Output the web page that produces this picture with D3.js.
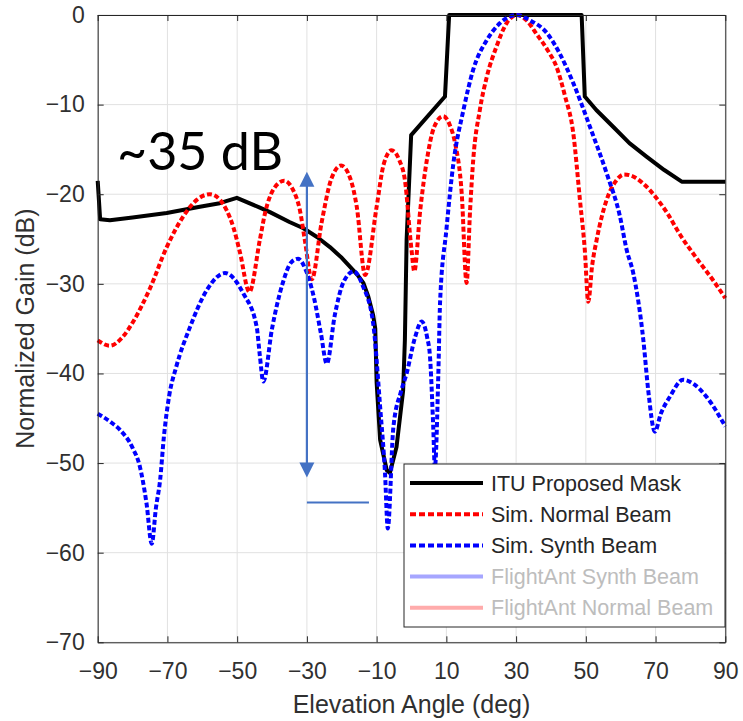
<!DOCTYPE html>
<html>
<head>
<meta charset="utf-8">
<script src="https://cdn.jsdelivr.net/npm/d3@7"></script>
<style>
body{margin:0;background:#fff;}
text{font-family:"Liberation Sans",Arial,sans-serif;}
.grid line{stroke:#e1e1e1;stroke-width:1;}
.axis path,.axis line{stroke:#262626;stroke-width:1;}
.axis text{fill:#303030;font-size:23px;}
</style>
</head>
<body>
<svg id="chart"></svg>
<script>
// ITU proposed mask
var maskAngle=[-90,-89.3,-86.5,-80,-70.2,-60.7,-55,-50.1,-43.5,-40.6,-35,-31,-27,-23.4,-20,-17.6,-15.5,-13.8,-12.4,-11,-10.4,-10,-9,-7.1,-6.2,-4.3,-2.4,-1.9,-1.4,-0.1,9.6,10.8,48.8,49.7,53,57.9,62.5,67.4,72.5,77.5,90];
var maskGain=[-18.5,-22.8,-22.9,-22.6,-22.1,-21.4,-21,-20.4,-21.5,-22,-23.1,-23.8,-24.8,-25.9,-27.1,-28.1,-29,-29.9,-31.4,-33.5,-35,-41,-47.4,-50.8,-51.1,-48.2,-41.9,-36.3,-25.1,-13.4,-9.1,0,0,-9.1,-10.6,-12.5,-14.3,-15.8,-17.3,-18.6,-18.6];
// simulated normal beam
var normalAngle=[-90,-86.5,-83,-79.8,-75,-70.2,-65.5,-61.5,-57.8,-55,-53,-51,-49.2,-46.5,-43.5,-42,-39.5,-36.5,-34,-32,-30.6,-28.6,-25.8,-23,-20.2,-17.5,-15.7,-13.3,-10,-8,-5.7,-3.5,-1.9,0,0.8,2.5,4.4,6.5,9.1,11,12.5,14.4,15.8,16.8,17.7,19.6,21.6,24.4,27.3,30.3,33,36,39,41.6,44,46.4,48.3,49.7,50.7,51.8,53.1,56,58.5,61,64,67,70,73.5,77,81.5,86.5,90];
var normalGain=[-36.3,-36.9,-36,-34.2,-30.5,-25.9,-22.5,-20.6,-20,-20.6,-21.8,-23.8,-26.5,-30.9,-25.1,-22.1,-19.4,-18.5,-19.5,-21.8,-25.1,-29.5,-23.2,-18.3,-16.8,-18.3,-21.4,-29,-21.4,-16.7,-15.1,-16.2,-18.4,-26.2,-28.6,-21.8,-16.2,-12.5,-11.3,-12.3,-14.3,-19.9,-29.9,-21.8,-16.2,-10.6,-6.9,-3.5,-0.9,0,-0.6,-2.2,-3.9,-5.8,-9,-13.2,-20.6,-26.2,-32,-28,-25.1,-20.6,-18.6,-17.8,-18.1,-19,-20.3,-22.2,-24.5,-27,-29.6,-31.6];
// simulated synthesized beam
var synthAngle=[-90,-86,-83.6,-80,-77.9,-76,-74.5,-73.3,-72.1,-71,-69.5,-67.5,-63.5,-58.7,-53.5,-48.2,-44.4,-43.5,-42.5,-40,-37,-34.5,-32.5,-30.5,-28,-26,-24.3,-22,-19.5,-16.5,-14,-11,-9,-7.6,-6.8,-5.2,-3,-1.4,1,2.9,4.5,5.3,6.2,6.7,7.7,8.2,10,12,14.9,17.7,21.6,25.4,30.2,34,38.8,42.5,46.4,51.2,56,59.8,61.7,63.6,66.5,67.9,69.8,71.5,74.1,77.9,81,84.6,90];
var synthGain=[-44.5,-45.5,-46.3,-48.3,-50.4,-54.5,-59,-55,-51.9,-47,-42.5,-39.3,-34.8,-30.7,-28.8,-31.1,-34.8,-38,-40.9,-35,-30,-27.6,-27.2,-28.3,-31.5,-35.5,-38.9,-33.5,-29.8,-28.6,-30.2,-34.4,-43.7,-51.1,-57.3,-46,-42,-40,-36,-34.2,-36,-38.1,-45.6,-50.5,-40,-32,-24,-16.6,-10.6,-6.1,-2.8,-0.9,0,-0.6,-2,-4.3,-7.6,-12.5,-17.7,-22.5,-26.2,-28.8,-36.3,-41.9,-46.5,-44.5,-42.6,-40.7,-41.2,-42.6,-45.9];

var xTicks=[-90,-70,-50,-30,-10,10,30,50,70,90];
var yTicks=[0,-10,-20,-30,-40,-50,-60,-70];
var legendLabels=["ITU Proposed Mask","Sim. Normal Beam","Sim. Synth Beam","FlightAnt Synth Beam","FlightAnt Normal Beam"];

var w=743;
var h=721;
var margin={left:97.7,right:17.7,top:15,bottom:78.7};

function zip(a,b){
  return a.map(function(d,i){return {x:d,y:b[i]};});
}
var mask=zip(maskAngle,maskGain);
var normal=zip(normalAngle,normalGain);
var synth=zip(synthAngle,synthGain);

var svg=d3.select("#chart")
          .attr("width",w)
          .attr("height",h);

var xScale=d3.scaleLinear()
             .domain([-90,90])
             .range([margin.left,w-margin.right]);
var yScale=d3.scaleLinear()
             .domain([-70,0])
             .range([h-margin.bottom,margin.top]);

// grid
svg.append("g")
   .classed("grid",true)
   .selectAll("line")
   .data(xTicks)
   .enter()
   .append("line")
   .attr("x1",function(d){return xScale(d);})
   .attr("x2",function(d){return xScale(d);})
   .attr("y1",yScale(0))
   .attr("y2",yScale(-70));
svg.append("g")
   .classed("grid",true)
   .selectAll("line")
   .data(yTicks)
   .enter()
   .append("line")
   .attr("x1",xScale(-90))
   .attr("x2",xScale(90))
   .attr("y1",function(d){return yScale(d);})
   .attr("y2",function(d){return yScale(d);});

// curves
var straight=d3.line()
               .x(function(d){return xScale(d.x);})
               .y(function(d){return yScale(d.y);});
var smooth=d3.line()
             .curve(d3.curveMonotoneX)
             .x(function(d){return xScale(d.x);})
             .y(function(d){return yScale(d.y);});

svg.append("path")
   .datum(mask)
   .attr("d",straight)
   .attr("fill","none")
   .attr("stroke","#000")
   .attr("stroke-width",4)
   .attr("stroke-linejoin","round");
svg.append("path")
   .datum(normal)
   .attr("d",smooth)
   .attr("fill","none")
   .attr("stroke","#ff0000")
   .attr("stroke-width",4)
   .attr("stroke-dasharray","5,2.6");
svg.append("path")
   .datum(synth)
   .attr("d",smooth)
   .attr("fill","none")
   .attr("stroke","#0000ff")
   .attr("stroke-width",4)
   .attr("stroke-dasharray","5,2.6");

// axes (ticks point inward like matlab)
var x0=xScale(-90),x1=xScale(90),y0=yScale(-70),y1=yScale(0);
svg.append("g")
   .classed("axis",true)
   .attr("transform","translate(0,"+y0+")")
   .call(d3.axisBottom(xScale).tickValues(xTicks).tickSizeInner(-6).tickSizeOuter(0).tickPadding(20));
svg.append("g")
   .classed("axis",true)
   .attr("transform","translate(0,"+y1+")")
   .call(d3.axisTop(xScale).tickValues(xTicks).tickSizeInner(-6).tickSizeOuter(0).tickFormat(""));
svg.append("g")
   .classed("axis",true)
   .attr("transform","translate("+x0+",0)")
   .call(d3.axisLeft(yScale).tickValues(yTicks).tickSizeInner(-6).tickSizeOuter(0).tickPadding(13));
svg.append("g")
   .classed("axis",true)
   .attr("transform","translate("+x1+",0)")
   .call(d3.axisRight(yScale).tickValues(yTicks).tickSizeInner(-6).tickSizeOuter(0).tickFormat(""));
svg.selectAll(".axis text").attr("font-family",null);

// axis titles
svg.append("text")
   .attr("x",(x0+x1)/2)
   .attr("y",713)
   .attr("text-anchor","middle")
   .attr("fill","#303030")
   .style("font-size","25px")
   .text("Elevation Angle (deg)");
svg.append("text")
   .attr("transform","translate(34,"+((y0+y1)/2)+") rotate(-90)")
   .attr("text-anchor","middle")
   .attr("fill","#303030")
   .style("font-size","25px")
   .text("Normalized Gain (dB)");

// annotation
var noteColor="#4472c4";
var ax=xScale(-30);
var topTip=yScale(-17.5),botTip=yScale(-51.6);
svg.append("line")
   .attr("x1",ax).attr("x2",ax)
   .attr("y1",topTip+14).attr("y2",botTip-14)
   .attr("stroke",noteColor)
   .attr("stroke-width",2.2);
svg.append("path")
   .attr("d","M"+ax+","+topTip+"L"+(ax-7.5)+","+(topTip+15)+"L"+(ax+7.5)+","+(topTip+15)+"Z")
   .attr("fill",noteColor);
svg.append("path")
   .attr("d","M"+ax+","+botTip+"L"+(ax-7.5)+","+(botTip-15)+"L"+(ax+7.5)+","+(botTip-15)+"Z")
   .attr("fill",noteColor);
svg.append("line")
   .attr("x1",ax).attr("x2",xScale(-12.2))
   .attr("y1",yScale(-54.4)).attr("y2",yScale(-54.4))
   .attr("stroke",noteColor)
   .attr("stroke-width",2.2);
svg.append("text")
   .attr("x",117)
   .attr("y",170)
   .style("font-family","Lato, 'Open Sans', sans-serif")
   .style("font-size","52px")
   .attr("fill","#000")
   .text("~35 dB");

// legend
var legX=404,legY=464,legW=321,legH=163;
var legColor=["#000","#ff0000","#0000ff","#a6a6ff","#ffabab"];
var legDash=[null,"6,3","6,3",null,null];
var legWidth=[4,4,4,4,4];
var legText=["#262626","#262626","#262626","#bdbdbd","#bdbdbd"];
var leg=svg.append("g");
leg.append("rect")
   .attr("x",legX).attr("y",legY)
   .attr("width",legW).attr("height",legH)
   .attr("fill","#fff")
   .attr("stroke","#262626")
   .attr("stroke-width",1);
leg.selectAll("line")
   .data(legendLabels)
   .enter()
   .append("line")
   .attr("x1",legX+6)
   .attr("x2",legX+79)
   .attr("y1",function(d,i){return legY+19+i*31.2;})
   .attr("y2",function(d,i){return legY+19+i*31.2;})
   .attr("stroke",function(d,i){return legColor[i];})
   .attr("stroke-width",function(d,i){return legWidth[i];})
   .attr("stroke-dasharray",function(d,i){return legDash[i];});
leg.selectAll("text")
   .data(legendLabels)
   .enter()
   .append("text")
   .attr("x",legX+87)
   .attr("y",function(d,i){return legY+19+i*31.2;})
   .attr("dy","0.35em")
   .style("font-size","21.5px")
   .attr("fill",function(d,i){return legText[i];})
   .text(function(d){return d;});
</script>
</body>
</html>
